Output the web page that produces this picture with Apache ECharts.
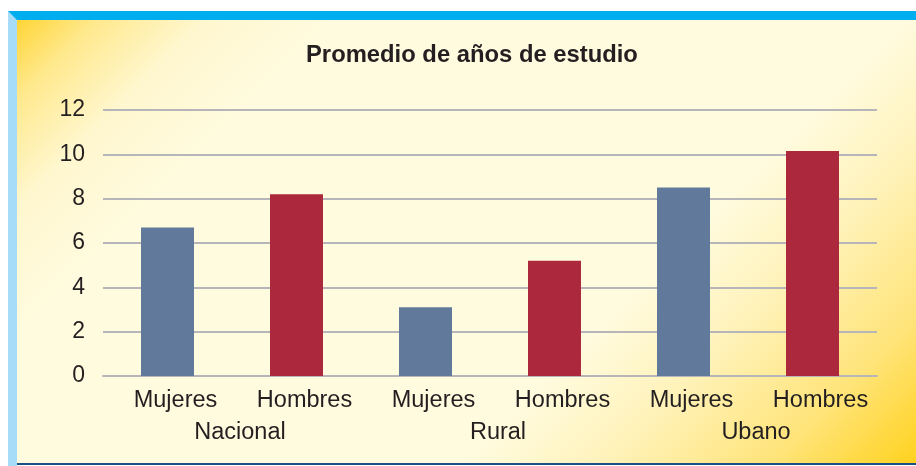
<!DOCTYPE html>
<html>
<head>
<meta charset="utf-8">
<script src="https://cdn.jsdelivr.net/npm/echarts@6/dist/echarts.min.js"></script>
<style>
  html, body { margin: 0; padding: 0; background: #fff; }
  #wrap { position: relative; width: 916px; height: 466px; overflow: hidden; }
  /* marco: barra azul arriba, franja celeste a la izquierda, línea oscura abajo */
  #topbar { position: absolute; left: 8px; top: 11px; width: 908px; height: 9px; background: #00AEEF; }
  #leftbar { position: absolute; left: 8px; top: 11px; width: 9px; height: 455px; background: #A6DCF7;
             clip-path: polygon(0 0, 100% 9px, 100% 100%, 0 100%); }
  #panel { position: absolute; left: 17px; top: 20px; width: 899px; height: 444px;
           background: linear-gradient(135deg, #FFD535 0%, #FFE98E 6%, #FFF7CF 14%, #FFFBDF 24%,
                                        #FFFBDF 66%, #FFF3BC 76%, #FFE47A 89%, #FFD21E 100%); }
  #bottomline { position: absolute; left: 17px; top: 463px; width: 899px; height: 2px; background: #1C4F86; }
  #chart { position: absolute; left: 0; top: 0; width: 916px; height: 466px; }
</style>
</head>
<body>
<div id="wrap">
  <div id="topbar"></div>
  <div id="leftbar"></div>
  <div id="panel"></div>
  <div id="bottomline"></div>
  <div id="chart"></div>
</div>
<script>
// datos
const categories = ['Mujeres', 'Hombres', 'Mujeres', 'Hombres', 'Mujeres', 'Hombres'];
const groups = ['Nacional', 'Rural', 'Ubano'];
const values = [6.7, 8.2, 3.1, 5.2, 8.5, 10.15];
const yTicks = [0, 12, 2]; // min, max, paso

const colorMujeres = '#617A9B';
const colorHombres = '#AC283C';
const textColor = '#231F20';
const font = 'Liberation Sans, Arial, sans-serif';

const chart = echarts.init(document.getElementById('chart'), null, { renderer: 'canvas' });

const option = {
  animation: false,
  backgroundColor: 'transparent',
  textStyle: { fontFamily: font },
  title: {
    text: 'Promedio de años de estudio',
    left: 301,
    top: 38,
    textStyle: { fontSize: 23.8, fontWeight: 'bold', color: textColor, fontFamily: font }
  },
  grid: { left: 103, right: 39, top: 110, bottom: 90, containLabel: false },
  xAxis: [
    {
      type: 'category',
      data: categories,
      position: 'bottom',
      axisLine: { show: true, lineStyle: { color: '#B5B5BA', width: 2 } },
      axisTick: { show: false },
      axisLabel: { fontSize: 23.5, color: textColor, margin: 13, interval: 0, padding: [0, 0, 0, 16], fontFamily: font }
    },
    {
      type: 'category',
      data: groups,
      position: 'bottom',
      offset: 32,
      axisLine: { show: false },
      axisTick: { show: false },
      axisLabel: { fontSize: 23.5, color: textColor, margin: 13, interval: 0, padding: [0, 0, 0, 16], fontFamily: font }
    }
  ],
  yAxis: {
    type: 'value',
    min: yTicks[0],
    max: yTicks[1],
    interval: yTicks[2],
    axisLine: { show: false },
    axisTick: { show: false },
    axisLabel: { fontSize: 23, color: textColor, margin: 18, fontFamily: font },
    splitLine: { lineStyle: { color: '#B5B5BA', width: 2 } }
  },
  series: [
    {
      type: 'bar',
      xAxisIndex: 0,
      barWidth: 53,
      data: values.map((v, i) => ({
        value: v,
        itemStyle: { color: categories[i] === 'Mujeres' ? colorMujeres : colorHombres }
      }))
    }
  ]
};

chart.setOption(option);
</script>
</body>
</html>
